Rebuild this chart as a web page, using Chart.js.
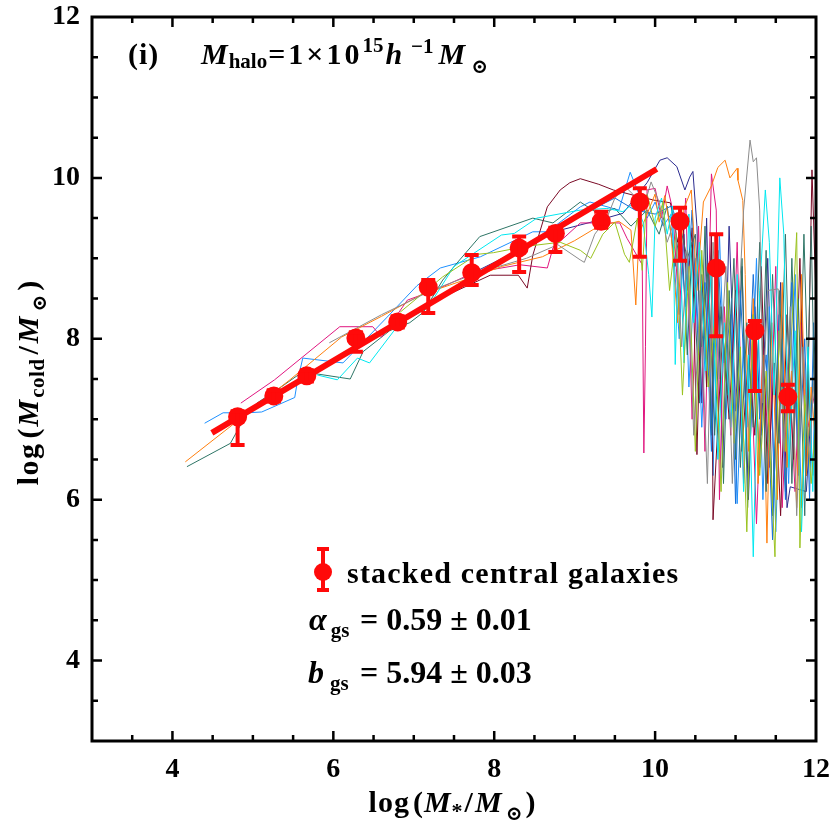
<!DOCTYPE html>
<html><head><meta charset="utf-8">
<script src="https://cdn.jsdelivr.net/npm/chart.js@4.4.1/dist/chart.umd.min.js"></script>
<style>html,body{margin:0;padding:0;background:#fff}canvas{display:block}</style>
</head><body>
<canvas id="c" width="834" height="834" style="width:834px;height:834px"></canvas>
<script>
// ---------- axis ticks ----------
const xTickValues = [4, 6, 8, 10, 12];
const yTickValues = [4, 6, 8, 10, 12];
const xRange = [3, 12];
const yRange = [3, 12];

// ---------- stacked central galaxies (red points) ----------
const stackX    = [4.81, 5.26, 5.67, 6.28, 6.80, 7.18, 7.72, 8.31, 8.76, 9.33, 9.81, 10.31, 10.76, 11.24, 11.65];
const stackY    = [7.03, 7.29, 7.54, 8.01, 8.21, 8.64, 8.82, 9.13, 9.31, 9.46, 9.70, 9.46, 8.88, 8.10, 7.28];
const stackLow  = [6.68, 7.22, 7.47, 7.84, 8.14, 8.32, 8.67, 8.83, 9.08, 9.38, 9.02, 8.97, 8.03, 7.35, 7.10];
const stackHigh = [7.10, 7.36, 7.61, 8.08, 8.28, 8.73, 9.04, 9.27, 9.38, 9.58, 9.87, 9.63, 9.30, 8.22, 7.43];

// ---------- linear fit ----------
const fitX = [4.49, 10.02];
const fitY = [6.83, 10.11];

// ---------- individual galaxy tracks ----------
const trackOrange = [[4.16,6.47],[5.46,7.49],[6.10,8.02],[6.60,8.28],[7.10,8.55],[7.60,8.72],[8.10,8.90],[8.60,9.02],[9.00,9.22],[9.30,9.40],[9.55,9.46],[9.70,9.35],[9.76,8.42],[9.80,9.30],[9.90,9.55],[10.00,9.80],[10.05,9.45],[10.12,9.78],[10.20,9.30],[10.28,8.20],[10.35,9.60],[10.45,9.85],[10.52,8.60],[10.60,9.70],[10.70,9.90],[10.78,10.13],[10.87,10.22],[10.93,10.00],[11.02,10.12],[11.03,9.97],[11.09,9.72],[11.12,8.80],[11.16,6.60],[11.22,8.50],[11.28,6.20],[11.34,7.80],[11.39,5.46],[11.45,8.20],[11.52,6.00],[11.58,8.70],[11.64,6.40],[11.70,7.60],[11.76,5.90],[11.82,8.80],[11.88,6.30],[11.94,7.40],[12.0,6.6]];
const trackTeal = [[4.18,6.41],[4.72,6.70],[4.93,7.08],[5.05,7.20],[5.35,7.40],[5.62,7.59],[6.21,7.50],[6.37,7.84],[6.70,8.10],[6.95,8.20],[7.12,8.33],[7.36,8.73],[7.57,8.98],[7.82,9.27],[8.48,9.50],[8.73,9.44],[9.07,9.70],[9.30,9.55],[9.50,9.62],[9.70,9.40],[9.90,9.60],[10.05,9.30],[10.15,9.65],[10.25,8.90],[10.32,9.50],[10.40,7.80],[10.46,9.20],[10.55,7.20],[10.62,9.40],[10.70,6.80],[10.78,9.10],[10.85,6.20],[10.92,8.60],[11.00,6.50],[11.08,9.00],[11.15,5.90],[11.22,8.30],[11.30,6.40],[11.38,9.10],[11.46,5.80],[11.55,8.60],[11.62,6.10],[11.70,9.00],[11.78,6.50],[11.85,9.30],[11.92,6.80],[12.0,8.20]];
const trackBlue = [[4.40,6.95],[4.63,7.08],[4.93,7.08],[5.11,7.09],[5.52,7.27],[5.55,7.45],[5.62,7.76],[6.12,7.70],[6.67,8.27],[7.04,8.66],[7.33,8.88],[7.83,9.02],[8.48,9.33],[8.66,9.33],[9.07,9.64],[9.19,9.70],[9.55,9.60],[9.69,10.07],[9.80,9.80],[9.90,9.50],[10.00,9.70],[10.10,9.40],[10.20,9.55],[10.30,8.00],[10.36,9.30],[10.42,7.40],[10.50,9.00],[10.58,6.90],[10.66,8.80],[10.72,6.30],[10.80,9.30],[10.88,7.00],[10.95,8.50],[11.02,5.95],[11.10,8.00],[11.18,6.60],[11.26,9.00],[11.34,6.00],[11.42,8.40],[11.50,5.60],[11.58,8.00],[11.66,6.20],[11.74,8.80],[11.82,5.90],[11.90,7.60],[11.96,6.30],[12.0,7.9]];
const trackMagenta = [[4.85,7.20],[5.27,7.49],[6.08,8.15],[6.49,8.15],[6.60,8.02],[6.92,8.48],[7.30,8.62],[7.74,8.82],[8.32,8.92],[8.66,8.88],[8.73,9.13],[9.07,9.44],[9.56,9.44],[9.65,9.25],[9.84,8.92],[9.86,6.58],[9.88,7.90],[9.90,9.85],[10.00,9.87],[10.08,9.50],[10.15,9.90],[10.22,9.60],[10.30,8.30],[10.38,9.75],[10.46,7.00],[10.54,9.40],[10.62,6.60],[10.70,10.05],[10.76,9.60],[10.80,6.00],[10.86,8.40],[10.94,6.80],[11.02,9.20],[11.10,6.20],[11.18,8.10],[11.26,5.70],[11.34,7.90],[11.42,6.40],[11.50,8.90],[11.58,5.90],[11.66,7.70],[11.74,6.10],[11.82,8.20],[11.90,6.90],[12.0,7.4]];
const trackCyan = [[5.80,7.55],[6.05,7.49],[6.30,7.76],[6.45,7.70],[6.83,8.20],[7.17,8.38],[7.50,8.90],[8.09,9.29],[8.25,9.31],[8.53,9.50],[9.07,9.60],[9.40,9.62],[9.60,9.58],[9.75,9.70],[9.85,9.45],[9.92,8.80],[9.96,8.27],[10.00,9.50],[10.08,9.75],[10.15,9.30],[10.22,9.65],[10.25,7.68],[10.30,9.40],[10.36,7.70],[10.42,9.55],[10.48,8.20],[10.55,9.20],[10.63,7.60],[10.70,8.90],[10.78,6.50],[10.86,8.20],[10.94,6.90],[11.02,8.80],[11.10,6.10],[11.16,7.80],[11.22,5.29],[11.30,8.60],[11.37,9.85],[11.42,9.20],[11.48,7.30],[11.55,10.00],[11.60,9.30],[11.66,6.40],[11.74,8.10],[11.82,5.60],[11.90,7.90],[11.96,6.10],[12.0,7.5]];
const trackGray = [[5.95,7.95],[6.08,8.02],[6.60,8.30],[7.24,8.61],[7.66,8.77],[7.99,8.88],[8.40,9.00],[8.79,9.17],[9.07,8.98],[9.12,8.95],[9.25,9.30],[9.40,9.50],[9.50,9.75],[9.62,9.90],[9.72,9.80],[9.85,9.60],[9.95,9.95],[10.05,9.70],[10.15,9.20],[10.25,9.50],[10.33,7.90],[10.40,9.10],[10.48,6.80],[10.56,8.60],[10.65,6.20],[10.72,9.20],[10.80,7.50],[10.88,8.90],[10.96,6.20],[11.04,8.40],[11.10,9.60],[11.18,10.47],[11.22,10.20],[11.26,10.25],[11.30,9.60],[11.34,7.20],[11.40,8.60],[11.53,8.62],[11.60,6.60],[11.68,8.40],[11.76,5.80],[11.84,7.90],[11.92,6.50],[12.0,8.0]];
const trackOlive = [[6.83,8.33],[7.36,8.77],[7.79,9.05],[7.99,9.07],[8.40,9.15],[8.82,9.20],[9.07,9.10],[9.20,9.00],[9.35,9.30],[9.50,9.45],[9.62,9.05],[9.68,8.95],[9.78,9.50],[9.84,8.85],[9.90,9.80],[10.00,9.40],[10.10,9.70],[10.18,8.60],[10.26,9.30],[10.34,7.30],[10.42,8.90],[10.50,6.60],[10.58,9.10],[10.66,7.40],[10.74,8.20],[10.82,6.10],[10.90,8.70],[10.98,6.70],[11.06,7.90],[11.14,5.60],[11.22,8.30],[11.30,6.30],[11.38,7.60],[11.49,5.29],[11.54,8.10],[11.62,6.60],[11.76,9.32],[11.80,5.40],[11.86,7.30],[11.94,6.20],[12.0,7.0]];
const trackNavy = [[7.30,8.50],[7.80,8.85],[8.30,9.10],[8.82,9.35],[9.32,9.48],[9.60,9.56],[9.90,9.94],[10.06,10.22],[10.15,10.25],[10.27,10.14],[10.37,9.85],[10.43,10.01],[10.47,10.08],[10.52,9.40],[10.58,7.20],[10.64,9.50],[10.70,6.90],[10.76,9.30],[10.84,6.40],[10.92,9.40],[11.00,7.10],[11.08,8.90],[11.16,6.00],[11.24,8.40],[11.32,6.80],[11.40,9.00],[11.48,6.20],[11.56,8.70],[11.64,5.90],[11.68,6.16],[11.88,6.10],[11.95,7.30],[12.0,7.6]];
const trackMaroon = [[6.95,8.27],[7.41,8.54],[7.95,8.79],[8.30,8.79],[8.41,8.63],[8.48,9.04],[8.66,9.64],[8.82,9.85],[8.94,9.94],[9.07,9.99],[9.30,9.92],[9.48,9.85],[9.75,9.78],[10.00,9.72],[10.19,9.69],[10.28,9.20],[10.34,9.55],[10.40,8.60],[10.46,9.38],[10.52,6.56],[10.58,8.80],[10.64,7.40],[10.70,9.30],[10.72,5.75],[10.84,8.10],[10.92,7.00],[11.00,8.60],[11.08,6.60],[11.16,7.80],[11.24,6.80],[11.32,8.90],[11.40,6.20],[11.48,7.70],[11.56,5.80],[11.64,8.30],[11.72,6.50],[11.80,9.00],[11.88,6.30],[11.95,10.10],[12.0,8.5]];
const trackBlue2 = [[9.20,9.60],[9.50,9.75],[9.75,9.60],[10.00,9.55],[10.20,9.65],[10.30,9.40],[10.38,8.40],[10.46,9.60],[10.54,7.80],[10.62,8.70],[10.70,6.60],[10.78,9.00],[10.86,7.70],[10.94,8.30],[11.00,5.95],[11.06,8.60],[11.14,6.90],[11.22,8.80],[11.30,7.00],[11.38,7.80],[11.46,5.50],[11.54,8.30],[11.62,6.00],[11.70,8.70],[11.78,6.30],[11.86,8.00],[11.92,6.00],[11.97,8.20],[12.0,5.4]];
const trackTeal2 = [[10.30,9.45],[10.40,9.00],[10.50,9.30],[10.58,7.90],[10.66,8.90],[10.74,6.80],[10.82,8.40],[10.90,7.30],[10.98,9.00],[11.06,6.40],[11.14,8.20],[11.22,6.90],[11.30,9.20],[11.38,6.10],[11.46,8.80],[11.54,6.70],[11.62,9.30],[11.70,6.20],[11.78,8.50],[11.86,5.80],[11.94,9.40],[12.0,6.2]];

const trackColors = {
  orange: '#ff7f0e', teal: '#2e7566', blue: '#1e90ff', magenta: '#e0167f',
  cyan: '#00e8f0', gray: '#8c8c8c', olive: '#9ac21f', navy: '#2b2b8f',
  maroon: '#7a0a26', blue2: '#1670d8', teal2: '#3a6f66'
};
const tracks = [
  [trackGray, trackColors.gray], [trackOlive, trackColors.olive], [trackCyan, trackColors.cyan],
  [trackTeal2, trackColors.teal2], [trackOrange, trackColors.orange], [trackBlue2, trackColors.blue2],
  [trackMaroon, trackColors.maroon], [trackMagenta, trackColors.magenta], [trackTeal, trackColors.teal],
  [trackBlue, trackColors.blue], [trackNavy, trackColors.navy]
];

const SERIF = '"Liberation Serif","Times New Roman","DejaVu Serif",serif';
const RED = '#ff0a0a';

const datasets = [];
datasets.push({
  label: 'stacked central galaxies',
  data: stackX.map((x, i) => ({x, y: stackY[i]})),
  showLine: false, pointRadius: 9.5, pointHoverRadius: 9.5,
  pointBackgroundColor: RED, pointBorderColor: RED, pointBorderWidth: 0, order: 0
});
datasets.push({
  label: 'fit',
  data: fitX.map((x, i) => ({x, y: fitY[i]})),
  showLine: true, borderColor: RED, borderWidth: 6, pointRadius: 0, order: 1
});
tracks.forEach((t, k) => datasets.push({
  label: 'track' + k,
  data: t[0].map(p => ({x: p[0], y: p[1]})),
  showLine: true, borderColor: t[1], borderWidth: 1, pointRadius: 0, tension: 0, order: 10 + k
}));

// parts: [text, font, dy, gapBefore, letterSpacing]
function rich(ctx, x, y, parts, align) {
  let w = 0;
  parts.forEach(p => {
    ctx.font = p[1] + ' ' + SERIF; ctx.letterSpacing = (p[4] || 0) + 'px';
    w += (p[3] || 0) + ctx.measureText(p[0]).width;
  });
  let cx = align === 'center' ? x - w / 2 : x;
  parts.forEach(p => {
    ctx.font = p[1] + ' ' + SERIF; ctx.letterSpacing = (p[4] || 0) + 'px';
    cx += (p[3] || 0);
    ctx.fillText(p[0], cx, y + (p[2] || 0));
    cx += ctx.measureText(p[0]).width;
  });
  ctx.letterSpacing = '0px';
}

const decor = {
  id: 'decor',
  afterDatasetsDraw(chart) {
    const ctx = chart.ctx, xs = chart.scales.x, ys = chart.scales.y;
    ctx.save();
    ctx.strokeStyle = RED; ctx.lineWidth = 4;
    stackX.forEach((x, i) => {
      const px = xs.getPixelForValue(x);
      const pl = ys.getPixelForValue(stackLow[i]), ph = ys.getPixelForValue(stackHigh[i]);
      ctx.beginPath(); ctx.moveTo(px, pl); ctx.lineTo(px, ph); ctx.stroke();
      ctx.beginPath(); ctx.moveTo(px - 7, pl); ctx.lineTo(px + 7, pl);
      ctx.moveTo(px - 7, ph); ctx.lineTo(px + 7, ph); ctx.stroke();
    });
    ctx.restore();
  },
  afterDraw(chart) {
    const ctx = chart.ctx, xs = chart.scales.x, ys = chart.scales.y, a = chart.chartArea;
    ctx.save();
    // frame
    ctx.strokeStyle = '#000'; ctx.lineWidth = 3;
    ctx.strokeRect(a.left, a.top, a.right - a.left, a.bottom - a.top);
    // inward ticks
    ctx.lineWidth = 2.5;
    for (let v = xRange[0] + 0.5; v < xRange[1]; v += 0.5) {
      const px = xs.getPixelForValue(v), L = xTickValues.includes(v) ? 10 : 6;
      ctx.beginPath(); ctx.moveTo(px, a.bottom); ctx.lineTo(px, a.bottom - L);
      ctx.moveTo(px, a.top); ctx.lineTo(px, a.top + L); ctx.stroke();
    }
    for (let v = yRange[0] + 0.5; v < yRange[1]; v += 0.5) {
      const py = ys.getPixelForValue(v), L = yTickValues.includes(v) ? 10 : 6;
      ctx.beginPath(); ctx.moveTo(a.left, py); ctx.lineTo(a.left + L, py);
      ctx.moveTo(a.right, py); ctx.lineTo(a.right - L, py); ctx.stroke();
    }
    ctx.fillStyle = '#000'; ctx.textBaseline = 'alphabetic'; ctx.textAlign = 'left';
    // title
    rich(ctx, 128, 64, [['(i)', 'bold 30px', 0, 0, 1]]);
    rich(ctx, 201, 64, [
      ['M', 'italic bold 30px'], ['halo', 'bold 21px', 4, 1], ['=1×10', 'bold 30px', 0, 1, 3],
      ['15', 'bold 21px', -12, 0], ['h', 'italic bold 30px', 0, 2], ['−1', 'bold 21px', -11, 9],
      ['M', 'italic bold 30px', 0, 5], ['⊙', 'bold 20px', 9, 6]
    ]);
    // legend
    const lx = 323, ly = 572;
    ctx.strokeStyle = RED; ctx.fillStyle = RED; ctx.lineWidth = 4;
    ctx.beginPath(); ctx.moveTo(lx, 549); ctx.lineTo(lx, 590);
    ctx.moveTo(lx - 6, 549); ctx.lineTo(lx + 6, 549); ctx.moveTo(lx - 6, 590); ctx.lineTo(lx + 6, 590); ctx.stroke();
    ctx.beginPath(); ctx.arc(lx, ly, 9, 0, Math.PI * 2); ctx.fill();
    ctx.fillStyle = '#000';
    ctx.font = 'bold 30px ' + SERIF;
    const lt = 'stacked central galaxies';
    const w0 = ctx.measureText(lt).width;
    ctx.letterSpacing = ((331 - w0) / (lt.length - 1)).toFixed(2) + 'px';
    ctx.fillText(lt, 347, 583);
    ctx.letterSpacing = '0px';
    rich(ctx, 309, 630, [['α', 'italic bold 32px'], ['gs', 'bold 21px', 7, 4]]);
    rich(ctx, 360, 630, [['= 0.59 ± 0.01', 'bold 32px']]);
    rich(ctx, 308, 683, [['b', 'italic bold 32px'], ['gs', 'bold 21px', 7, 6]]);
    rich(ctx, 360, 683, [['= 5.94 ± 0.03', 'bold 32px']]);
    // axis titles
    rich(ctx, 452, 812, [
      ['log', 'bold 30px', 0, 0, 1], ['(', 'bold 30px', 0, 3], ['M', 'italic bold 30px', 0, 1], ['*', 'bold 22px', 6, 1], ['/', 'bold 30px', 0, 2],
      ['M', 'italic bold 30px', 0, 2], ['⊙', 'bold 20px', 8, 4], [')', 'bold 30px', 0, 3]
    ], 'center');
    ctx.translate(38, 383); ctx.rotate(-Math.PI / 2);
    rich(ctx, 0, 0, [
      ['log', 'bold 30px', 0, 0, 1.5], ['(', 'bold 30px', 0, 4], ['M', 'italic bold 30px', 0, 2], ['cold', 'bold 21px', 6, 2, 0.5], ['/', 'bold 30px', 0, 4],
      ['M', 'italic bold 30px', 0, 3], ['⊙', 'bold 20px', 8, 5], [')', 'bold 30px', 0, 4]
    ], 'center');
    ctx.restore();
  }
};

new Chart(document.getElementById('c'), {
  type: 'scatter',
  data: { datasets },
  options: {
    responsive: false, animation: false, devicePixelRatio: 1,
    layout: { padding: { left: 0, top: 17, right: 18, bottom: 0 } },
    plugins: { legend: { display: false }, tooltip: { enabled: false } },
    scales: {
      x: {
        type: 'linear', min: xRange[0], max: xRange[1],
        afterBuildTicks: s => { s.ticks = xTickValues.map(v => ({value: v})); },
        afterFit: s => { s.height = 93; s.paddingLeft = 0; s.paddingRight = 0; },
        grid: { display: false, drawTicks: false },
        border: { display: false },
        ticks: { color: '#000', padding: 12, font: { family: SERIF, size: 28, weight: 'bold' }, maxRotation: 0 }
      },
      y: {
        type: 'linear', min: yRange[0], max: yRange[1],
        afterBuildTicks: s => { s.ticks = yTickValues.map(v => ({value: v})); },
        afterFit: s => { s.width = 92; s.paddingTop = 0; s.paddingBottom = 0; },
        grid: { display: false, drawTicks: false },
        border: { display: false },
        ticks: { color: '#000', padding: 12, font: { family: SERIF, size: 28, weight: 'bold' } }
      }
    }
  },
  plugins: [decor]
});
</script>
</body></html>
